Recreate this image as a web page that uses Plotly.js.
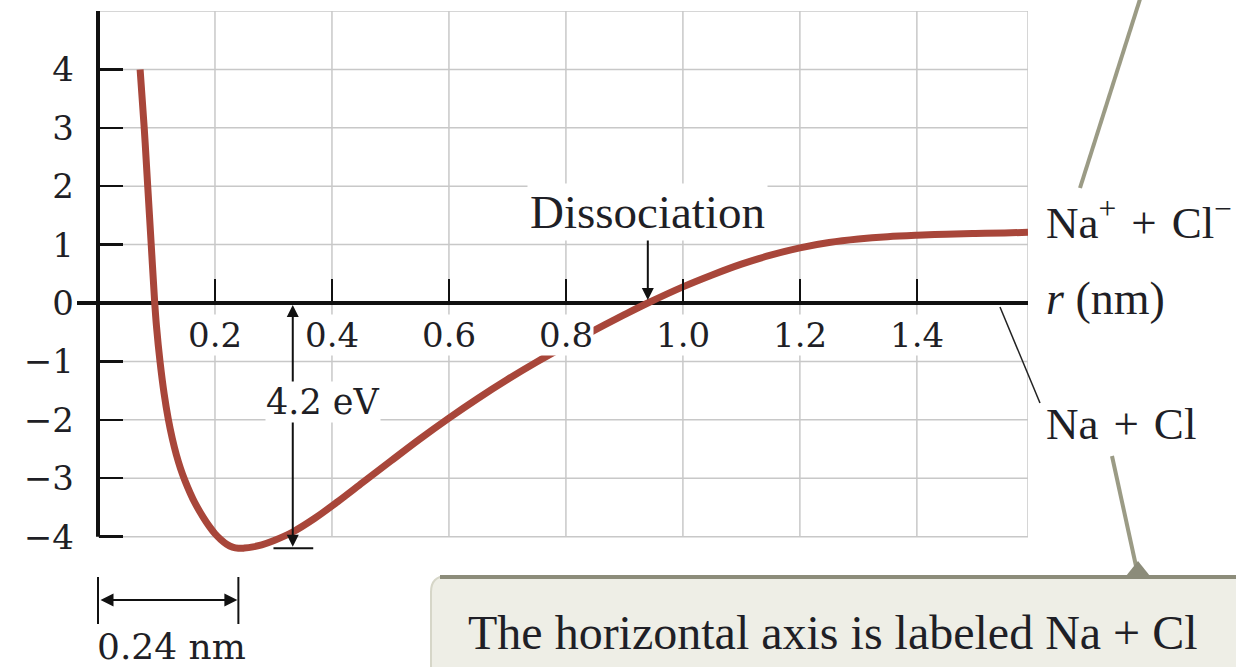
<!DOCTYPE html>
<html>
<head>
<meta charset="utf-8">
<script src="https://cdn.plot.ly/plotly-3.0.1.min.js"></script>
<style>
  html, body { margin: 0; padding: 0; background: #ffffff; }
  #chart { width: 1236px; height: 667px; }
</style>
</head>
<body>
<div id="chart"></div>
<script>
// Potential energy of the NaCl molecule versus ion separation
const rNm = [0.072, 0.079, 0.085, 0.091, 0.097, 0.100, 0.106, 0.113, 0.120, 0.127,
             0.134, 0.141, 0.149, 0.157, 0.165, 0.180, 0.190, 0.200, 0.210, 0.220,
             0.230, 0.240, 0.250, 0.265, 0.280, 0.300, 0.333, 0.370, 0.410, 0.453,
             0.500, 0.550, 0.600, 0.650, 0.700, 0.750, 0.800, 0.850, 0.900, 0.940,
             1.000, 1.050, 1.100, 1.150, 1.200, 1.250, 1.300, 1.350, 1.400, 1.450,
             1.500, 1.550, 1.590];
const uEv = [4.0, 3.0, 2.0, 1.0, 0.0, -0.4, -1.0, -1.55, -1.98, -2.32,
             -2.6, -2.83, -3.05, -3.24, -3.41, -3.67, -3.82, -3.95, -4.05, -4.13,
             -4.18, -4.2, -4.196, -4.175, -4.14, -4.07, -3.92, -3.69, -3.40, -3.07,
             -2.71, -2.33, -1.97, -1.63, -1.31, -1.01, -0.73, -0.46, -0.2, 0.0,
             0.276, 0.48, 0.665, 0.82, 0.945, 1.035, 1.095, 1.135, 1.16, 1.178,
             1.19, 1.2, 1.21];

// axis ticks and labels
const xTicks = [0.2, 0.4, 0.6, 0.8, 1.0, 1.2, 1.4];
const xTickText = ['0.2', '0.4', '0.6', '0.8', '1.0', '1.2', '1.4'];
const yTicks = [-4, -3, -2, -1, 0, 1, 2, 3, 4];
const yTickText = ['−4', '−3', '−2', '−1', '0', '1', '2', '3', '4'];

// key values called out on the chart
const rEquilibrium = 0.24;   // nm
const bindingEnergy = 4.2;   // eV
const rDissociation = 0.94;  // nm
const rEnd = 1.59;           // right edge of the grid
const uTop = 5, uBottom = -4;

// frame
const W_PAGE = 1236, H_PAGE = 667;
const M = {l: 77, r: 208, t: 11, b: 107};
const PW = W_PAGE - M.l - M.r, PH = H_PAGE - M.t - M.b;
const xRange = [-0.0359, rEnd];
const yRange = [-4.4, uTop];
// page pixels -> paper fractions, for the decorations around the plot
const px = v => (v - M.l) / PW;
const py = v => (H_PAGE - M.b - v) / PH;

const numFont = 'DejaVu Serif, serif';
const textFont = 'Liberation Serif, Times New Roman, serif';
const ink = '#1f1f26';
const gridColor = '#c8c8c8';
const curveColor = '#a8463a';
const leaderColor = '#9b9b85';
const sp = '\u2004';

const shapes = [];
// grid (only inside the 0..rEnd by -4..5 frame)
[...xTicks, rEnd].forEach(v => shapes.push({
  type: 'line', layer: 'below', xref: 'x', yref: 'y',
  x0: v, x1: v, y0: uBottom, y1: uTop, line: {color: gridColor, width: 1.5}
}));
for (let v = uBottom; v <= uTop; v++) {
  shapes.push({type: 'line', layer: 'below', xref: 'x', yref: 'y',
    x0: 0, x1: rEnd, y0: v, y1: v, line: {color: gridColor, width: 1.5}});
}
// vertical axis spine
shapes.push({type: 'line', xref: 'x', yref: 'y', x0: 0, x1: 0, y0: uBottom, y1: uTop + 0.05,
  line: {color: '#111', width: 4}});
// base bar under the 4.2 eV arrow
shapes.push({type: 'line', xref: 'x', yref: 'y', x0: 0.300, x1: 0.368,
  y0: -bindingEnergy, y1: -bindingEnergy, line: {color: '#111', width: 2}});
// 0.24 nm bracket ends
[0, rEquilibrium].forEach(v => shapes.push({
  type: 'line', xref: 'x', yref: 'paper', x0: v, x1: v, y0: py(577), y1: py(624),
  line: {color: '#111', width: 2}
}));
// leader from axis end to "Na + Cl"
shapes.push({type: 'line', xref: 'paper', yref: 'paper',
  x0: px(1000), y0: py(307), x1: px(1040), y1: py(403), line: {color: '#222', width: 1.5}});
// callout box
shapes.push({type: 'path', xref: 'paper', yref: 'paper',
  path: `M ${px(1245)},${py(690)} L ${px(431)},${py(690)} L ${px(431)},${py(592)} ` +
        `Q ${px(431)},${py(576)} ${px(447)},${py(576)} L ${px(1245)},${py(576)} Z`,
  fillcolor: '#eeeee6', line: {color: '#d6d6c8', width: 2}});
shapes.push({type: 'line', xref: 'paper', yref: 'paper',
  x0: px(440), y0: py(577), x1: px(1245), y1: py(577), line: {color: '#8c8c7a', width: 4}});
// callout leaders
shapes.push({type: 'line', xref: 'paper', yref: 'paper',
  x0: px(1141), y0: py(-4), x1: px(1080), y1: py(188), line: {color: leaderColor, width: 4}});
shapes.push({type: 'line', xref: 'paper', yref: 'paper',
  x0: px(1112), y0: py(456), x1: px(1136), y1: py(566), line: {color: leaderColor, width: 4}});
shapes.push({type: 'path', xref: 'paper', yref: 'paper',
  path: `M ${px(1126)},${py(576)} L ${px(1150)},${py(576)} L ${px(1138)},${py(561)} Z`,
  fillcolor: '#8c8c7a', line: {width: 0}});

const annotations = [];
// x tick labels on white so the curve and grid break behind them
xTicks.forEach((v, i) => annotations.push({
  x: v, y: 0, xref: 'x', yref: 'y', text: xTickText[i], showarrow: false,
  yanchor: 'top', yshift: -11, bgcolor: '#ffffff', borderpad: 0,
  font: {family: numFont, size: 34, color: ink}
}));
// Dissociation
annotations.push({
  x: rDissociation, y: 0, xref: 'x', yref: 'y', text: 'Dissociation',
  showarrow: true, ax: 0, ay: -91, arrowhead: 2, arrowsize: 1.2, arrowwidth: 2,
  arrowcolor: '#111', standoff: 3, bgcolor: '#ffffff', borderpad: 2,
  font: {family: textFont, size: 47, color: ink}
});
// 4.2 eV double arrow and its label
annotations.push({
  x: 0.333, y: 0, xref: 'x', yref: 'y', text: '', showarrow: true,
  axref: 'x', ayref: 'y', ax: 0.333, ay: -bindingEnergy,
  arrowhead: 2, startarrowhead: 2, arrowside: 'end+start', arrowsize: 1.2, startarrowsize: 1.2,
  arrowwidth: 2, arrowcolor: '#111', standoff: 2, startstandoff: 0
});
annotations.push({
  x: 0.385, y: -1.7, xref: 'x', yref: 'y', text: bindingEnergy.toFixed(1) + ' eV',
  showarrow: false, bgcolor: '#ffffff', borderpad: 0,
  font: {family: numFont, size: 35, color: ink}
});
// 0.24 nm double arrow and label
annotations.push({
  x: rEquilibrium, y: py(600), xref: 'x', yref: 'paper', text: '', showarrow: true,
  axref: 'x', ayref: 'pixel', ax: 0, ay: 0,
  arrowhead: 2, startarrowhead: 2, arrowside: 'end+start', arrowsize: 1.3, startarrowsize: 1.3,
  arrowwidth: 2, arrowcolor: '#111', standoff: 1, startstandoff: 1
});
annotations.push({
  x: 0, y: py(646), xref: 'x', yref: 'paper', text: rEquilibrium + ' nm',
  showarrow: false, xanchor: 'left', yanchor: 'middle', xshift: -3,
  font: {family: numFont, size: 36, color: ink}
});
// labels to the right of the plot
annotations.push({
  x: px(1044), y: py(219), xref: 'paper', yref: 'paper', xanchor: 'left', yanchor: 'middle',
  text: 'Na<sup>+</sup>' + sp + '+' + sp + 'Cl<sup>−</sup>', showarrow: false,
  font: {family: textFont, size: 45, color: ink}
});
annotations.push({
  x: px(1044), y: py(298), xref: 'paper', yref: 'paper', xanchor: 'left', yanchor: 'middle',
  text: '<i>r</i> (nm)', showarrow: false,
  font: {family: textFont, size: 46, color: ink}
});
annotations.push({
  x: px(1044), y: py(424), xref: 'paper', yref: 'paper', xanchor: 'left', yanchor: 'middle',
  text: 'Na' + sp + '+' + sp + 'Cl', showarrow: false,
  font: {family: textFont, size: 45, color: ink}
});
// callout text
annotations.push({
  x: px(466), y: py(632), xref: 'paper', yref: 'paper', xanchor: 'left', yanchor: 'middle',
  text: 'The horizontal axis is labeled Na + Cl', showarrow: false,
  font: {family: textFont, size: 48, color: ink}
});

const trace = {
  x: rNm, y: uEv, type: 'scatter', mode: 'lines',
  line: {color: curveColor, width: 7, shape: 'spline', smoothing: 1},
  hoverinfo: 'skip'
};

const layout = {
  width: W_PAGE, height: H_PAGE,
  margin: {l: M.l, r: M.r, t: M.t, b: M.b, pad: 0},
  paper_bgcolor: '#ffffff', plot_bgcolor: 'rgba(0,0,0,0)',
  showlegend: false,
  xaxis: {
    range: xRange, anchor: 'free',
    position: (0 - yRange[0]) / (yRange[1] - yRange[0]),
    showgrid: false, zeroline: false, showline: false,
    tickmode: 'array', tickvals: [...xTicks, rEnd], showticklabels: false,
    ticks: 'inside', ticklen: 24, tickwidth: 2.5, tickcolor: '#111'
  },
  yaxis: {
    range: yRange, anchor: 'free',
    position: (0 - xRange[0]) / (xRange[1] - xRange[0]),
    showgrid: false, showline: false,
    zeroline: true, zerolinecolor: '#111', zerolinewidth: 4,
    tickmode: 'array', tickvals: yTicks, ticktext: yTickText,
    ticks: 'inside', ticklen: 24, tickwidth: 2.5, tickcolor: '#111',
    ticklabelstandoff: 24,
    tickfont: {family: numFont, size: 34, color: ink}
  },
  shapes: shapes,
  annotations: annotations
};

Plotly.newPlot('chart', [trace], layout, {displayModeBar: false, staticPlot: true});
</script>
</body>
</html>
